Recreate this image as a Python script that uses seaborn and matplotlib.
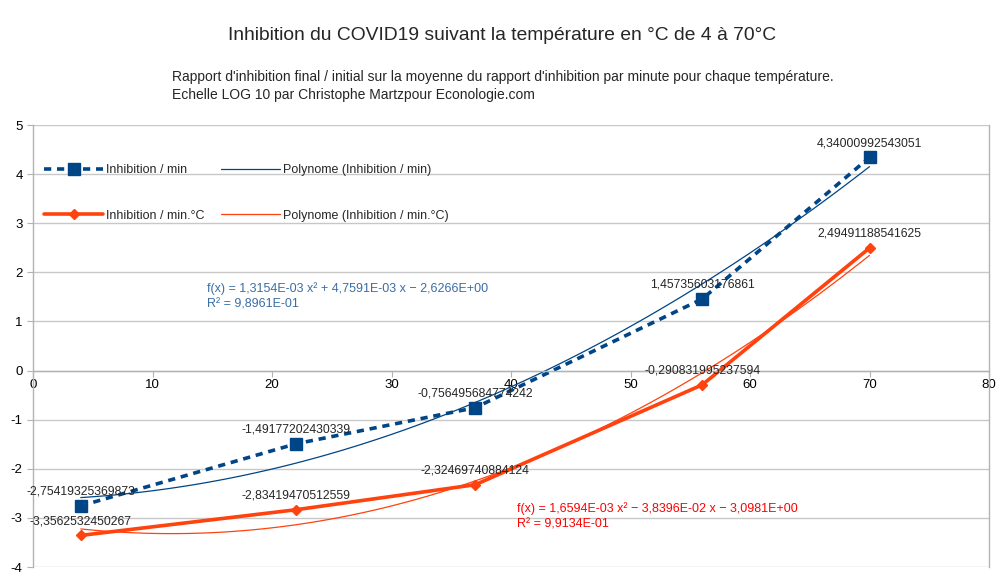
import numpy as np
import matplotlib
matplotlib.use("Agg")
import matplotlib.pyplot as plt
import seaborn as sns

# data
temperature = [4, 22, 37, 56, 70]
inhib_min = [-2.75419325369873, -1.49177202430339, -0.756495684774242, 1.45735603176861, 4.34000992543051]
inhib_min_c = [-3.3562532450267, -2.83419470512559, -2.32469740884124, -0.290831995237594, 2.49491188541625]

eq_min = "f(x) = 1,3154E-03 x² + 4,7591E-03 x − 2,6266E+00\nR² = 9,8961E-01"
eq_min_c = "f(x) = 1,6594E-03 x² − 3,8396E-02 x − 3,0981E+00\nR² = 9,9134E-01"

blue = "#004586"
orange = "#ff420e"

sns.set_style("white")
plt.rcParams['font.family'] = ['Liberation Sans', 'DejaVu Sans']
plt.rcParams['axes.unicode_minus'] = False

fig = plt.figure(figsize=(10.04, 5.74), dpi=100)
ax = fig.add_axes([33/1004, 1 - 567/574, (989-33)/1004, (567-125)/574])

# polynomial trend lines (order 2 fit)
sns.regplot(x=temperature, y=inhib_min, order=2, ci=None, scatter=False, ax=ax,
            line_kws=dict(color=blue, lw=0.9), label="Polynome (Inhibition / min)")
sns.regplot(x=temperature, y=inhib_min_c, order=2, ci=None, scatter=False, ax=ax,
            line_kws=dict(color=orange, lw=0.9), label="Polynome (Inhibition / min.°C)")

l1, = ax.plot(temperature, inhib_min, color=blue, lw=2.6, ls=(0, (2, 1.6)),
              marker='s', ms=8, label="Inhibition / min")
l2, = ax.plot(temperature, inhib_min_c, color=orange, lw=2.6,
              marker='D', ms=5, label="Inhibition / min.°C")

for x, y in zip(temperature, inhib_min):
    ax.annotate(str(y).replace('.', ','), (x, y), xytext=(0, 6), textcoords='offset points',
                ha='center', va='bottom', fontsize=8.8)
for x, y in zip(temperature, inhib_min_c):
    ax.annotate(str(y).replace('.', ','), (x, y), xytext=(0, 6), textcoords='offset points',
                ha='center', va='bottom', fontsize=8.8)

ax.text(14.6, 1.52, eq_min, color="#3a6ea5", fontsize=9, va='center', linespacing=1.4)
ax.text(40.5, -2.96, eq_min_c, color="#ff0000", fontsize=9, va='center', linespacing=1.4)

ax.set_xlim(0, 80)
ax.set_ylim(-4, 5)
ax.set_xticks(range(0, 81, 10))
ax.set_yticks(range(-4, 6))
ax.yaxis.grid(True, color="#c8c8c8", lw=1)
ax.xaxis.grid(False)
for s in ['left', 'right', 'top', 'bottom']:
    ax.spines[s].set_color("#b3b3b3")
    ax.spines[s].set_linewidth(1)
ax.spines['bottom'].set_position(('data', 0))
ax.spines['top'].set_visible(False)
ax.tick_params(axis='both', length=4, color="#b3b3b3", labelsize=9.5, labelcolor='black',
               bottom=True, left=True, direction='out')
ax.tick_params(axis='x', pad=2)

lines = ax.get_lines()
handles = [l1, l2, lines[0], lines[1]]
labels = ["Inhibition / min", "Inhibition / min.°C",
          "Polynome (Inhibition / min)", "Polynome (Inhibition / min.°C)"]
ax.legend(handles, labels, ncol=2, loc='upper left', bbox_to_anchor=(0.0, 0.937),
          frameon=False, fontsize=9, handlelength=4.7, labelspacing=2.7,
          columnspacing=1.3, handletextpad=0.25, markerscale=1.0)

fig.text(0.5, 1 - 35/574, "Inhibition du COVID19 suivant la température en °C de 4 à 70°C",
         ha='center', va='center', fontsize=13.9)
fig.text(172/1004, 1 - 86/574,
         "Rapport d'inhibition final / initial sur la moyenne du rapport d'inhibition par minute pour chaque température.\n"
         "Echelle LOG 10 par Christophe Martzpour Econologie.com",
         ha='left', va='center', fontsize=10, linespacing=1.3)

fig.savefig("out.png", dpi=100)
